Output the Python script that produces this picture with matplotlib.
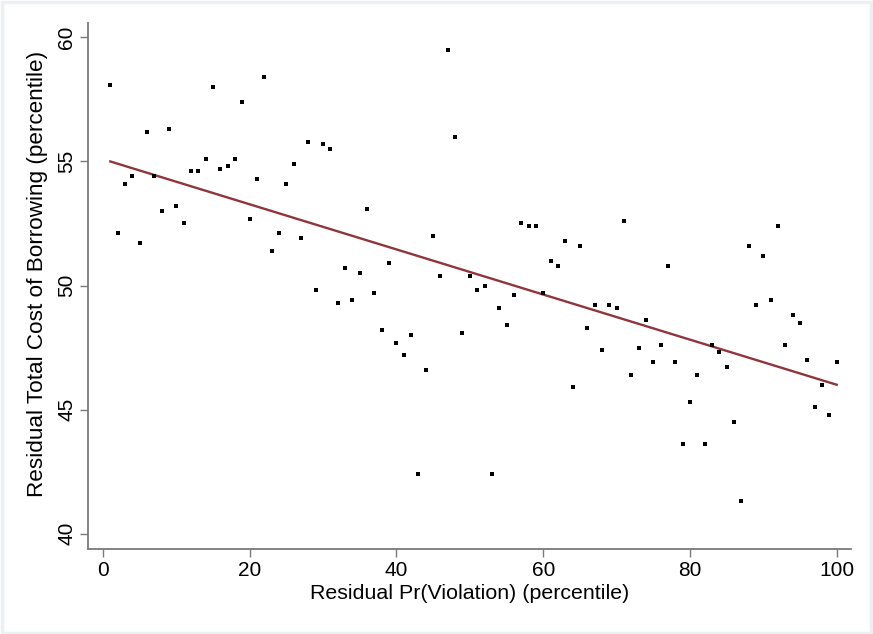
import numpy as np
import matplotlib
matplotlib.use("Agg")
import matplotlib.pyplot as plt
from matplotlib.patches import Rectangle

plt.rcParams['font.family'] = ['Liberation Sans', 'DejaVu Sans']

# percentiles 1..100
pr_violation = np.arange(1, 101)

cost_borrowing = [
    58.1, 52.1, 54.1, 54.4, 51.7, 56.2, 54.4, 53.0, 56.3, 53.2,
    52.5, 54.6, 54.6, 55.1, 58.0, 54.7, 54.8, 55.1, 57.4, 52.7,
    54.3, 58.4, 51.4, 52.1, 54.1, 54.9, 51.9, 55.8, 49.8, 55.7,
    55.5, 49.3, 50.7, 49.4, 50.5, 53.1, 49.7, 48.2, 50.9, 47.7,
    47.2, 48.0, 42.4, 46.6, 52.0, 50.4, 59.5, 56.0, 48.1, 50.4,
    49.8, 50.0, 42.4, 49.1, 48.4, 49.6, 52.5, 52.4, 52.4, 49.7,
    51.0, 50.8, 51.8, 45.9, 51.6, 48.3, 49.2, 47.4, 49.2, 49.1,
    52.6, 46.4, 47.5, 48.6, 46.9, 47.6, 50.8, 46.9, 43.6, 45.3,
    46.4, 43.6, 47.6, 47.3, 46.7, 44.5, 41.3, 51.6, 49.2, 51.2,
    49.4, 52.4, 47.6, 48.8, 48.5, 47.0, 45.1, 46.0, 44.8, 46.9,
]

# fitted line endpoints
fit_x = [1, 100]
fit_y = [55.0, 46.0]

fig = plt.figure(figsize=(8.73, 6.34), dpi=100)
ax = fig.add_axes([0.1008, 0.1341, 0.874, 0.8296])

ax.scatter(pr_violation, cost_borrowing, s=12, marker='s', color='black',
           linewidths=0, zorder=3)
ax.plot(fit_x, fit_y, color='#90353b', lw=1.7, zorder=2)

ax.set_xlim(-2.04, 101.95)
ax.set_ylim(39.38, 60.58)
ax.set_xticks([0, 20, 40, 60, 80, 100])
ax.set_yticks([40, 45, 50, 55, 60])

for s in ['top', 'right']:
    ax.spines[s].set_visible(False)
for s in ['left', 'bottom']:
    ax.spines[s].set_color('#7a7a7a')
    ax.spines[s].set_linewidth(1.3)

ax.tick_params(axis='both', direction='out', length=5.5, width=1.0,
               color='#7a7a7a', labelsize=15, pad=3)
for lab in ax.get_yticklabels():
    lab.set_rotation(90)
    lab.set_va('center')

ax.set_xlabel("Residual Pr(Violation) (percentile)", fontsize=15.4, labelpad=3)
ax.set_ylabel("Residual Total Cost of Borrowing (percentile)", fontsize=16.2)
ax.yaxis.set_label_coords(-0.052, 0.523)

# light outer frame
fig.patches.append(Rectangle((0.002, 0.002), 0.996, 0.995,
                             transform=fig.transFigure, fill=False,
                             edgecolor='#edf0f3', lw=2.5))

fig.savefig("out.png", dpi=100, facecolor='white')
